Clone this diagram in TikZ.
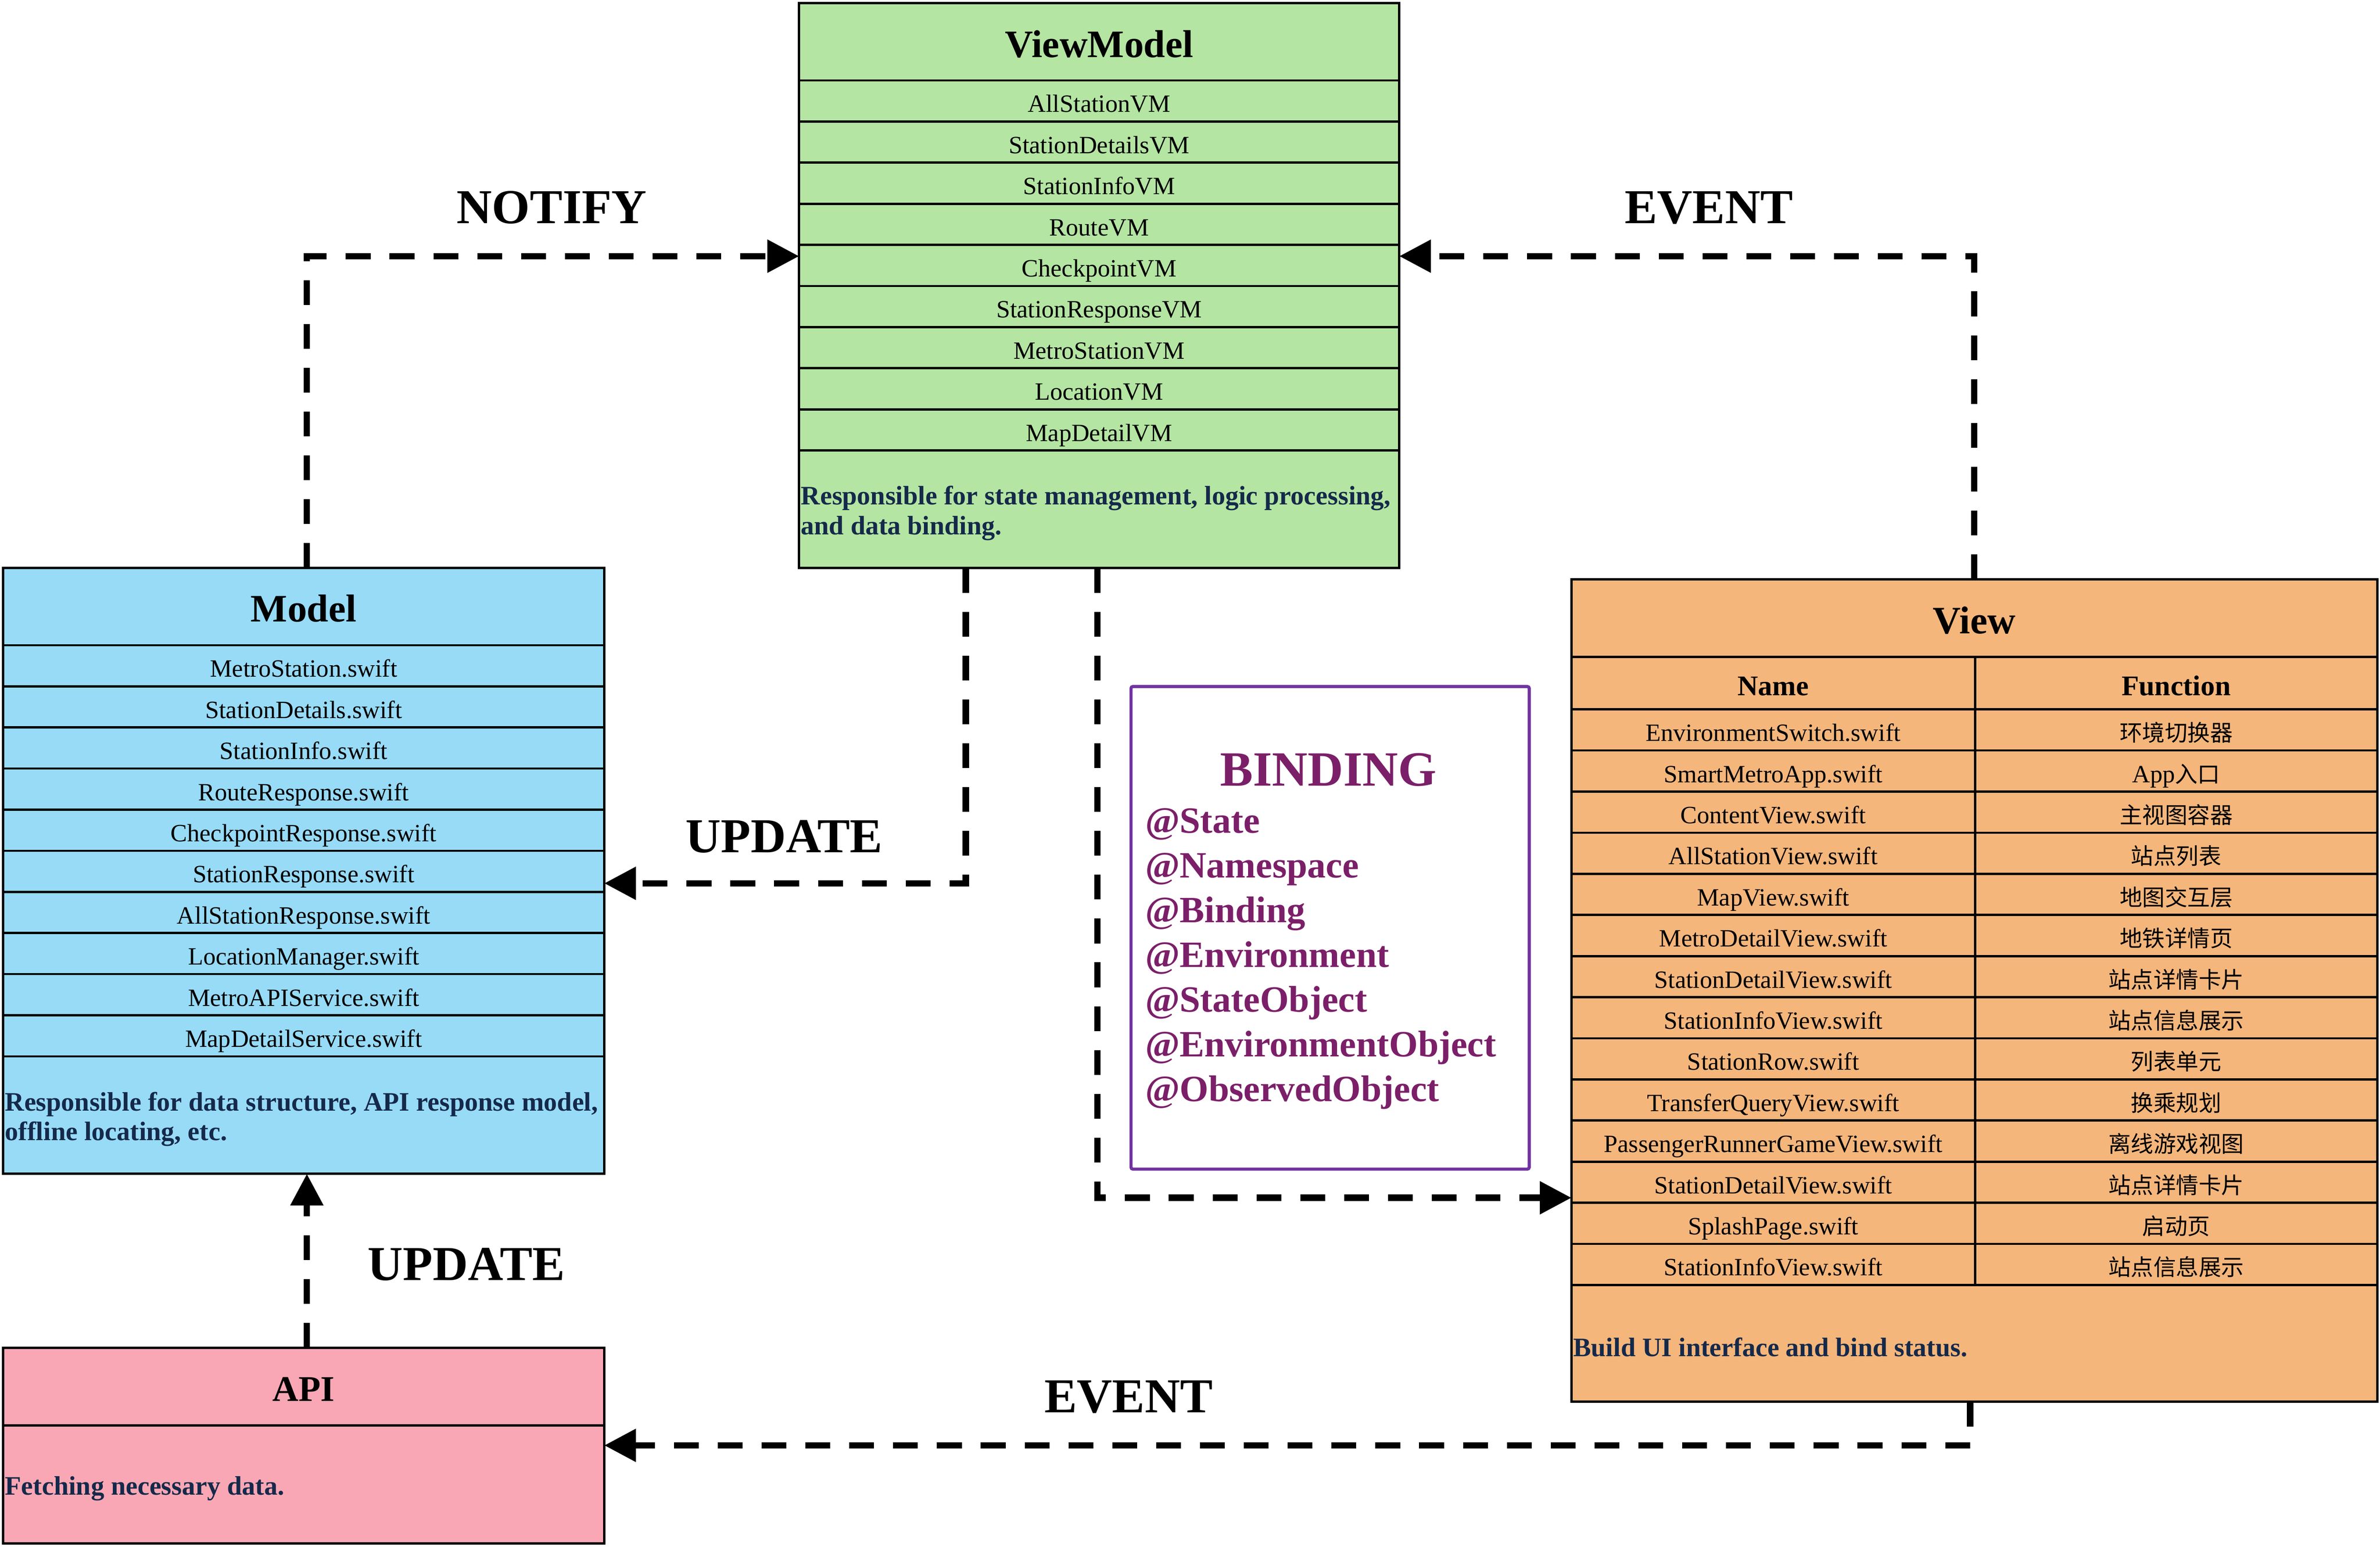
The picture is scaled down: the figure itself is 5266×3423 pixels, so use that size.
\documentclass[tikz,border=0pt]{standalone}
\usepackage{fontspec}
\setmainfont{Liberation Serif}
\newfontfamily\cjk{Noto Sans CJK SC}
\usetikzlibrary{arrows.meta}
\definecolor{vmgreen}{HTML}{B4E5A2}
\definecolor{modelblue}{HTML}{97DBF7}
\definecolor{apipink}{HTML}{F9A7B4}
\definecolor{vieworange}{HTML}{F4B67B}
\definecolor{descblue}{HTML}{15294A}
\definecolor{bindpurple}{HTML}{7133A1}
\definecolor{bindtext}{HTML}{7B1F69}
\begin{document}
\begin{tikzpicture}[x=1pt,y=-1pt,
  cell/.style={draw=black, line width=5pt, anchor=north west, inner sep=0pt, outer sep=0pt},
  rowtxt/.style={font=\fontsize{55}{60}\selectfont, text height=60pt, text depth=10pt},
  cjktxt/.style={font=\cjk\fontsize{50}{56}\selectfont, text height=60pt, text depth=10pt},
  hdrtxt/.style={font=\bfseries\fontsize{63}{70}\selectfont, text height=64pt, text depth=10pt},
  ttl/.style={font=\bfseries\fontsize{86}{96}\selectfont, text height=80pt, text depth=12pt},
  desc/.style={font=\bfseries\fontsize{59}{66}\selectfont, text=descblue, align=left, inner sep=0pt},
  lbl/.style={font=\bfseries\fontsize{108}{120}\selectfont, anchor=base, inner sep=0pt},
  bindtxt/.style={font=\bfseries\fontsize{82}{90}\selectfont, text=bindtext, inner sep=0pt},
  conn/.style={line width=14pt, dash pattern=on 55pt off 42pt, -{Triangle[length=70pt,width=70pt]}}
]
\useasboundingbox (0,0) rectangle (5266,3423);

% ---------- ViewModel ----------
\node[cell, fill=vmgreen, minimum width=1328pt, minimum height=1250pt] (vm) at (1768,7) {};
\node[cell, ttl, minimum width=1328pt, minimum height=171pt] (vmT) at (1768,7) {ViewModel};
\foreach \t [count=\i] in {AllStationVM,StationDetailsVM,StationInfoVM,RouteVM,CheckpointVM,StationResponseVM,MetroStationVM,LocationVM,MapDetailVM}
  \node[cell, rowtxt, minimum width=1328pt, minimum height=91pt] (vm\i) at (1768,{178+(\i-1)*91}) {\t};
\node[cell, minimum width=1328pt, minimum height=260pt] (vmD) at (1768,997) {};
\node[desc, anchor=west] (vmDt) at ([xshift=4pt,yshift=-9pt]vmD.west) {Responsible for state management, logic processing,\\and data binding.};

% ---------- Model ----------
\node[cell, fill=modelblue, minimum width=1330pt, minimum height=1341pt] (m) at (7,1257) {};
\node[cell, ttl, minimum width=1330pt, minimum height=171pt] (mT) at (7,1257) {Model};
\foreach \t [count=\i] in {MetroStation.swift,StationDetails.swift,StationInfo.swift,RouteResponse.swift,CheckpointResponse.swift,StationResponse.swift,AllStationResponse.swift,LocationManager.swift,MetroAPIService.swift,MapDetailService.swift}
  \node[cell, rowtxt, minimum width=1330pt, minimum height=91pt] (m\i) at (7,{1428+(\i-1)*91}) {\t};
\node[cell, minimum width=1330pt, minimum height=260pt] (mD) at (7,2338) {};
\node[desc, anchor=west] (mDt) at ([xshift=4pt,yshift=-9pt]mD.west) {Responsible for data structure, API response model,\\offline locating, etc.};

% ---------- API ----------
\node[cell, fill=apipink, minimum width=1330pt, minimum height=433pt] (api) at (7,2983) {};
\node[cell, font=\bfseries\fontsize{80}{90}\selectfont, text height=76pt, text depth=12pt, minimum width=1330pt, minimum height=172pt] (apiT) at (7,2983) {API};
\node[cell, minimum width=1330pt, minimum height=261pt] (apiD) at (7,3155) {};
\node[desc, anchor=west] (apiDt) at ([xshift=4pt,yshift=-9pt]apiD.west) {Fetching necessary data.};

% ---------- View ----------
\node[cell, fill=vieworange, minimum width=1783pt, minimum height=1820pt] (v) at (3477,1282) {};
\node[cell, ttl, minimum width=1783pt, minimum height=172pt] (vT) at (3477,1282) {View};
\node[cell, hdrtxt, minimum width=893pt, minimum height=116pt] (vHn) at (3477,1454) {Name};
\node[cell, hdrtxt, minimum width=890pt, minimum height=116pt] (vHf) at (4370,1454) {Function};
\foreach \n/\f [count=\i] in {
  EnvironmentSwitch.swift/环境切换器,
  SmartMetroApp.swift/{{\rmfamily\fontsize{55}{60}\selectfont App}入口},
  ContentView.swift/主视图容器,
  AllStationView.swift/站点列表,
  MapView.swift/地图交互层,
  MetroDetailView.swift/地铁详情页,
  StationDetailView.swift/站点详情卡片,
  StationInfoView.swift/站点信息展示,
  StationRow.swift/列表单元,
  TransferQueryView.swift/换乘规划,
  PassengerRunnerGameView.swift/离线游戏视图,
  StationDetailView.swift/站点详情卡片,
  SplashPage.swift/启动页,
  StationInfoView.swift/站点信息展示}
{
  \node[cell, rowtxt, minimum width=893pt, minimum height=91pt] (vn\i) at (3477,{1570+(\i-1)*91}) {\n};
  \node[cell, cjktxt, minimum width=890pt, minimum height=91pt] (vf\i) at (4370,{1570+(\i-1)*91}) {\f};
}
\node[cell, minimum width=1783pt, minimum height=258pt] (vD) at (3477,2844) {};
\node[desc, anchor=west] (vDt) at ([xshift=4pt,yshift=-9pt]vD.west) {Build UI interface and bind status.};

% ---------- Binding ----------
\node[draw=bindpurple, line width=7pt, rounded corners=4pt, anchor=north west, inner sep=0pt,
      minimum width=881pt, minimum height=1068pt] (bind) at (2499,1516) {};
\node[bindtxt, font=\bfseries\fontsize{109}{120}\selectfont, anchor=base] (bindT) at (2939,1739) {BINDING};
\foreach \t [count=\i] in {State,Namespace,Binding,Environment,StateObject,EnvironmentObject,ObservedObject}
  \node[bindtxt, anchor=base west] (b\i) at (2534,{1844+(\i-1)*99}) {@\t};

% ---------- Connectors ----------
\coordinate (nA) at (679,567);
\coordinate (nB) at (4368,567);
\coordinate (nC) at (2137,1955);
\coordinate (nD) at (2428,2651);
\coordinate (nF) at (4359,3199);

\draw[conn] (m.north -| nA) -- (nA) -- (vm.west |- nA);
\draw[conn] (v.north -| nB) -- (nB) -- (vm.east |- nB);
\draw[conn] (vm.south -| nC) -- (nC) -- (m.east |- nC);
\draw[conn] (vm.south -| nD) -- (nD) -- (v.west |- nD);
\draw[conn] (api.north -| nA) -- (m.south -| nA);
\draw[conn] (v.south -| nF) -- (nF) -- (api.east |- nF);

% ---------- Labels ----------
\node[lbl] (lNotify) at (1221,495) {NOTIFY};
\node[lbl] (lEvent1) at (3781,495) {EVENT};
\node[lbl] (lUpd1) at (1735,1887) {UPDATE};
\node[lbl] (lUpd2) at (1032,2834) {UPDATE};
\node[lbl] (lEvent2) at (2497,3126) {EVENT};
\end{tikzpicture}
\end{document}
